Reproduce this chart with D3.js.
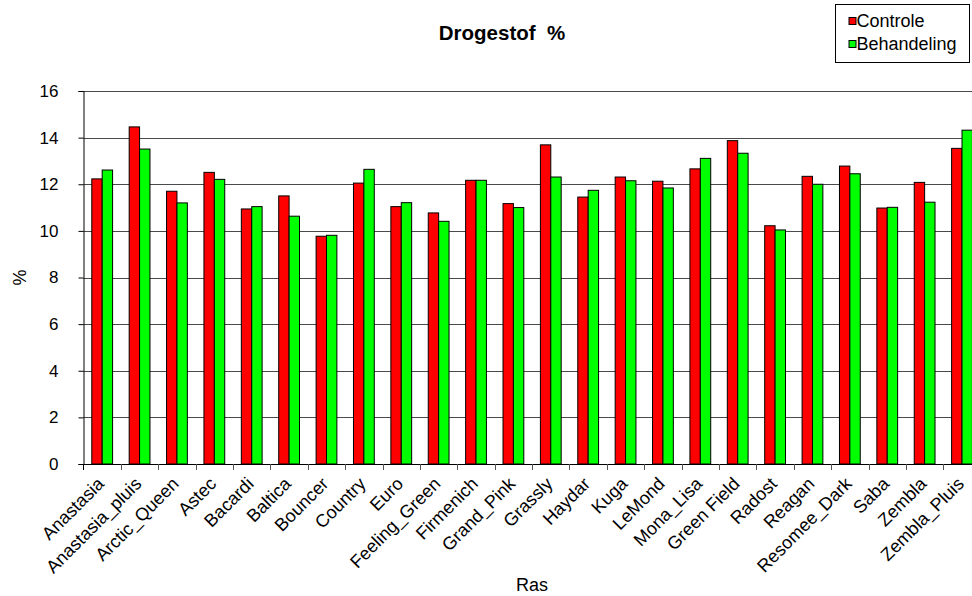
<!DOCTYPE html>
<html>
<head>
<meta charset="utf-8">
<script src="https://cdn.jsdelivr.net/npm/d3@7"></script>
<style>
  html, body { margin: 0; padding: 0; background: #fff; }
  svg { display: block; font-family: Arial, "Liberation Sans", sans-serif; }
</style>
</head>
<body>
<svg id="chart" width="972" height="596"></svg>
<script>
const categories = ["Anastasia","Anastasia_pluis","Arctic_Queen","Astec","Bacardi","Baltica","Bouncer","Country","Euro","Feeling_Green","Firmenich","Grand_Pink","Grassly","Haydar","Kuga","LeMond","Mona_Lisa","Green Field","Radost","Reagan","Resomee_Dark","Saba","Zembla","Zembla_Pluis"];
const controle =    [12.23,14.46,11.70,12.51,10.94,11.50,9.77,12.05,11.04,10.77,12.17,11.17,13.69,11.45,12.31,12.13,12.66,13.87,10.22,12.34,12.78,10.98,12.08,13.54];
const behandeling = [12.61,13.51,11.20,12.21,11.04,10.63,9.81,12.64,11.21,10.41,12.17,11.00,12.31,11.74,12.15,11.84,13.11,13.33,10.04,12.00,12.45,11.01,11.23,14.32];
const seriesNames = ["Controle","Behandeling"];
const seriesColors = ["#ff0000","#00ff00"];
const yTicks = [0,2,4,6,8,10,12,14,16];
const titleText = "Drogestof  %";
const xTitle = "Ras";
const yTitle = "%";

(function(){
const svg = d3.select("#chart");
svg.append("rect").attr("width",972).attr("height",596).attr("fill","#fff");

const pLeft = 83.5, pRight = 980.7, pTop = 91, pBottom = 464;
const x = d3.scaleBand().domain(categories).range([pLeft, pRight]).paddingInner(0).paddingOuter(0);
const x1 = d3.scaleBand().domain(seriesNames).range([x.bandwidth()*0.222, x.bandwidth()*0.778]);
const y = d3.scaleLinear().domain([0,16]).range([pBottom, pTop]);

// gridlines
svg.append("g").selectAll("line").data(yTicks.filter(t => t>0)).join("line")
  .attr("x1", pLeft).attr("x2", 972)
  .attr("y1", d => Math.round(y(d))+0.5).attr("y2", d => Math.round(y(d))+0.5)
  .attr("stroke","#4a4a4a").attr("stroke-width",1);

// bars
const data = categories.map((c,i) => ({c, vals:[controle[i], behandeling[i]]}));
const groups = svg.append("g").selectAll("g").data(data).join("g")
  .attr("transform", d => `translate(${x(d.c)},0)`);
groups.selectAll("rect").data(d => d.vals.map((v,j)=>({v, s:seriesNames[j], j}))).join("rect")
  .attr("x", d => x1(d.s)).attr("width", x1.bandwidth())
  .attr("y", d => y(d.v)).attr("height", d => y(0)-y(d.v))
  .attr("fill", d => seriesColors[d.j]).attr("stroke","#000").attr("stroke-width",1);

// y axis
const yAxis = d3.axisLeft(y).tickValues(yTicks).tickSize(5).tickPadding(20).tickFormat(d3.format("d"));
const gy = svg.append("g").attr("transform",`translate(${pLeft},0)`).call(yAxis);
gy.select(".domain").attr("stroke","#000");
gy.selectAll(".tick line").attr("stroke","#000");
gy.selectAll("text").attr("font-size",17).attr("fill","#000").attr("font-family","Arial, 'Liberation Sans', sans-serif");

// x axis
const xAxis = d3.axisBottom(x).tickSize(0).tickFormat("");
const gx = svg.append("g").attr("transform",`translate(0,${pBottom})`).call(xAxis);
gx.select(".domain").attr("stroke","#000").attr("d", `M${pLeft},0.5H972`);
svg.append("g").selectAll("line").data(categories.slice(1)).join("line")
  .attr("x1", d => Math.round(x(d))+0.5).attr("x2", d => Math.round(x(d))+0.5)
  .attr("y1", pBottom).attr("y2", pBottom+6).attr("stroke","#555");
svg.append("line").attr("x1",pLeft).attr("x2",pLeft).attr("y1",pBottom).attr("y2",pBottom+6).attr("stroke","#000");

// x labels
svg.append("g").selectAll("text").data(categories).join("text")
  .attr("transform", d => `translate(${x(d)+x.bandwidth()/2+3},${pBottom+21}) rotate(-45)`)
  .attr("text-anchor","end").attr("font-size",18).attr("fill","#000")
  .text(d => d);

// titles
svg.append("text").attr("x",502).attr("y",40).attr("text-anchor","middle")
  .attr("font-size",20.5).attr("font-weight","bold").attr("fill","#000").style("white-space","pre").text(titleText);
svg.append("text").attr("x",532).attr("y",591).attr("text-anchor","middle")
  .attr("font-size",18).attr("fill","#000").text(xTitle);
svg.append("text").attr("transform",`translate(26,${(pTop+pBottom)/2}) rotate(-90)`).attr("text-anchor","middle")
  .attr("font-size",18).attr("fill","#000").text(yTitle);

// legend
const lg = svg.append("g").attr("transform","translate(835.5,4.5)");
lg.append("rect").attr("width",134).attr("height",58).attr("fill","#fff").attr("stroke","#000").attr("stroke-width",1);
seriesNames.forEach((s,i) => {
  lg.append("rect").attr("x",13.5).attr("y",13+i*23).attr("width",7).attr("height",7)
    .attr("fill",seriesColors[i]).attr("stroke","#000").attr("stroke-width",1);
  lg.append("text").attr("x",21).attr("y",22.5+i*23).attr("font-size",18).attr("fill","#000").text(s);
});
})();
</script>
</body>
</html>
